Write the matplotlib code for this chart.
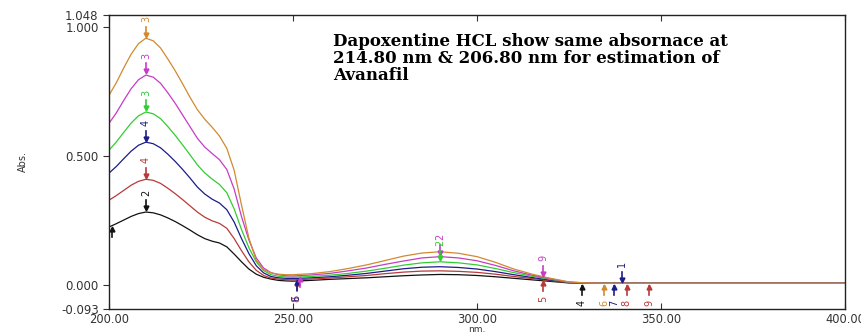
import matplotlib.pyplot as plt
import numpy as np

# wavelengths (nm) and absorbance of the six overlaid spectra
wl = [200, 202, 204, 206, 208, 210, 212, 214, 216, 218, 220, 222, 224, 226, 228, 230,
      232, 234, 236, 238, 240, 242, 244, 246, 248, 250,
      255, 260, 265, 270, 275, 280, 285, 290, 295, 300, 305, 310, 315, 320, 325, 330, 335, 400]
abs_orange = [0.736, 0.785, 0.842, 0.895, 0.936, 0.957, 0.947, 0.919, 0.876, 0.83, 0.78, 0.728, 0.68, 0.643, 0.612, 0.578,
              0.53, 0.445, 0.31, 0.182, 0.096, 0.06, 0.047, 0.042, 0.040, 0.040,
              0.044, 0.052, 0.064, 0.078, 0.095, 0.112, 0.124, 0.129, 0.123, 0.110, 0.088, 0.062, 0.042, 0.026, 0.012, 0.008, 0.007, 0.007]
abs_magenta = [0.627, 0.668, 0.716, 0.761, 0.796, 0.814, 0.806, 0.782, 0.745, 0.704, 0.659, 0.614, 0.569, 0.535, 0.51, 0.486,
               0.448, 0.372, 0.265, 0.175, 0.105, 0.066, 0.048, 0.040, 0.036, 0.035,
               0.039, 0.045, 0.055, 0.066, 0.080, 0.093, 0.105, 0.110, 0.105, 0.094, 0.076, 0.055, 0.038, 0.024, 0.011, 0.008, 0.007, 0.007]
abs_green = [0.523, 0.555, 0.592, 0.628, 0.656, 0.671, 0.664, 0.645, 0.614, 0.580, 0.543, 0.505, 0.466, 0.435, 0.411, 0.39,
             0.358, 0.295, 0.215, 0.145, 0.09, 0.056, 0.040, 0.034, 0.031, 0.030,
             0.033, 0.038, 0.045, 0.054, 0.065, 0.077, 0.086, 0.090, 0.086, 0.078, 0.064, 0.048, 0.034, 0.022, 0.010, 0.008, 0.007, 0.007]
abs_blue = [0.434, 0.46, 0.49, 0.519, 0.542, 0.554, 0.548, 0.532, 0.507, 0.479, 0.448, 0.415, 0.38, 0.353, 0.333, 0.318,
            0.292, 0.244, 0.18, 0.122, 0.075, 0.047, 0.033, 0.028, 0.026, 0.025,
            0.028, 0.032, 0.038, 0.045, 0.054, 0.063, 0.069, 0.071, 0.068, 0.062, 0.052, 0.040, 0.029, 0.019, 0.010, 0.008, 0.007, 0.007]
abs_red = [0.329, 0.347, 0.367, 0.387, 0.402, 0.41, 0.406, 0.394, 0.375, 0.354, 0.331, 0.307, 0.283, 0.263, 0.249, 0.239,
           0.22, 0.18, 0.133, 0.09, 0.057, 0.037, 0.027, 0.023, 0.021, 0.020,
           0.023, 0.027, 0.032, 0.037, 0.044, 0.050, 0.054, 0.055, 0.053, 0.049, 0.042, 0.033, 0.025, 0.017, 0.009, 0.008, 0.007, 0.007]
abs_black = [0.225, 0.238, 0.252, 0.266, 0.277, 0.283, 0.28, 0.272, 0.26, 0.246, 0.23, 0.213, 0.195, 0.18, 0.17, 0.163,
             0.148, 0.12, 0.09, 0.062, 0.042, 0.030, 0.023, 0.018, 0.016, 0.015,
             0.018, 0.022, 0.025, 0.028, 0.032, 0.036, 0.039, 0.041, 0.040, 0.037, 0.032, 0.026, 0.020, 0.014, 0.008, 0.007, 0.007, 0.007]

series = [abs_black, abs_red, abs_blue, abs_green, abs_magenta, abs_orange]
colors = ['#111111', '#b83a3a', '#1c1c8a', '#33cc33', '#c63cc6', '#d08a30']

# peak-pick labels at the 210 nm maximum (one per curve, same order as series)
peak_x = 210
peak_labels = ['2', '4', '4', '3', '3', '3']

# other pick markers: (wavelength, curve index, label, above?)
pick_x = [200.8, 251, 251, 252, 290, 290, 318, 318, 328.4, 334.5, 337.2, 340.7, 346.7, 339.5]
pick_curve = [0, 1, 2, 4, 4, 3, 4, 1, 0, 5, 2, 1, 1, 2]
pick_label = ['', '8', '6', '', '2', '2', '9', '5', '4', '6', '7', '8', '9', '1']
pick_up = [False, False, False, False, True, True, True, False, False, False, False, False, False, True]

yticks = [-0.093, 0.0, 0.5, 1.0, 1.048]
xticks = [200, 250, 300, 350, 400]

fig = plt.figure(figsize=(8.62, 3.35), dpi=100)
ax = fig.add_axes([0.1265, 0.0776, 0.8538, 0.8784])

for ys, c in zip(series, colors):
    ax.plot(wl, ys, color=c, lw=0.9)


def mark(x, y, c, label, up):
    s = 1 if up else -1
    ax.plot([x, x], [y + s * 0.012, y + s * 0.045], color=c, lw=1.2)
    ax.plot(x, y + s * 0.014, marker='v' if up else '^', color=c, ms=3.5)
    if label:
        ax.text(x, y + s * 0.075, label, color=c, fontsize=7, rotation=90,
                ha='center', va='center')


for ys, c, lab in zip(series, colors, peak_labels):
    mark(peak_x, np.interp(peak_x, wl, ys), c, lab, True)

for x, ci, lab, up in zip(pick_x, pick_curve, pick_label, pick_up):
    mark(x, np.interp(x, wl, series[ci]), colors[ci], lab, up)

ax.set_xlim(200, 400)
ax.set_ylim(-0.093, 1.048)
ax.set_xticks(xticks)
ax.set_xticklabels(['%.2f' % v for v in xticks])
ax.set_yticks(yticks)
ax.set_yticklabels(['%.3f' % v for v in yticks])
ax.tick_params(axis='x', direction='in', top=True, length=4, labelsize=8.3, colors='#333333', pad=3)
ax.tick_params(axis='y', direction='out', length=4, labelsize=8.5, colors='#333333')
for sp in ax.spines.values():
    sp.set_color('#222222')
    sp.set_linewidth(1.0)

ax.set_xlabel('nm.', fontsize=6.5, color='#333333')
ax.xaxis.set_label_coords(0.5, -0.056)
ax.set_ylabel('Abs.', fontsize=7, color='#333333', labelpad=24)

ax.text(260.9, 0.978, 'Dapoxentine HCL show same absornace at\n214.80 nm & 206.80 nm for estimation of\nAvanafil',
        family='DejaVu Serif', fontweight='bold', fontsize=12, va='top', ha='left', linespacing=1.0)

fig.savefig('out.png', dpi=100)
